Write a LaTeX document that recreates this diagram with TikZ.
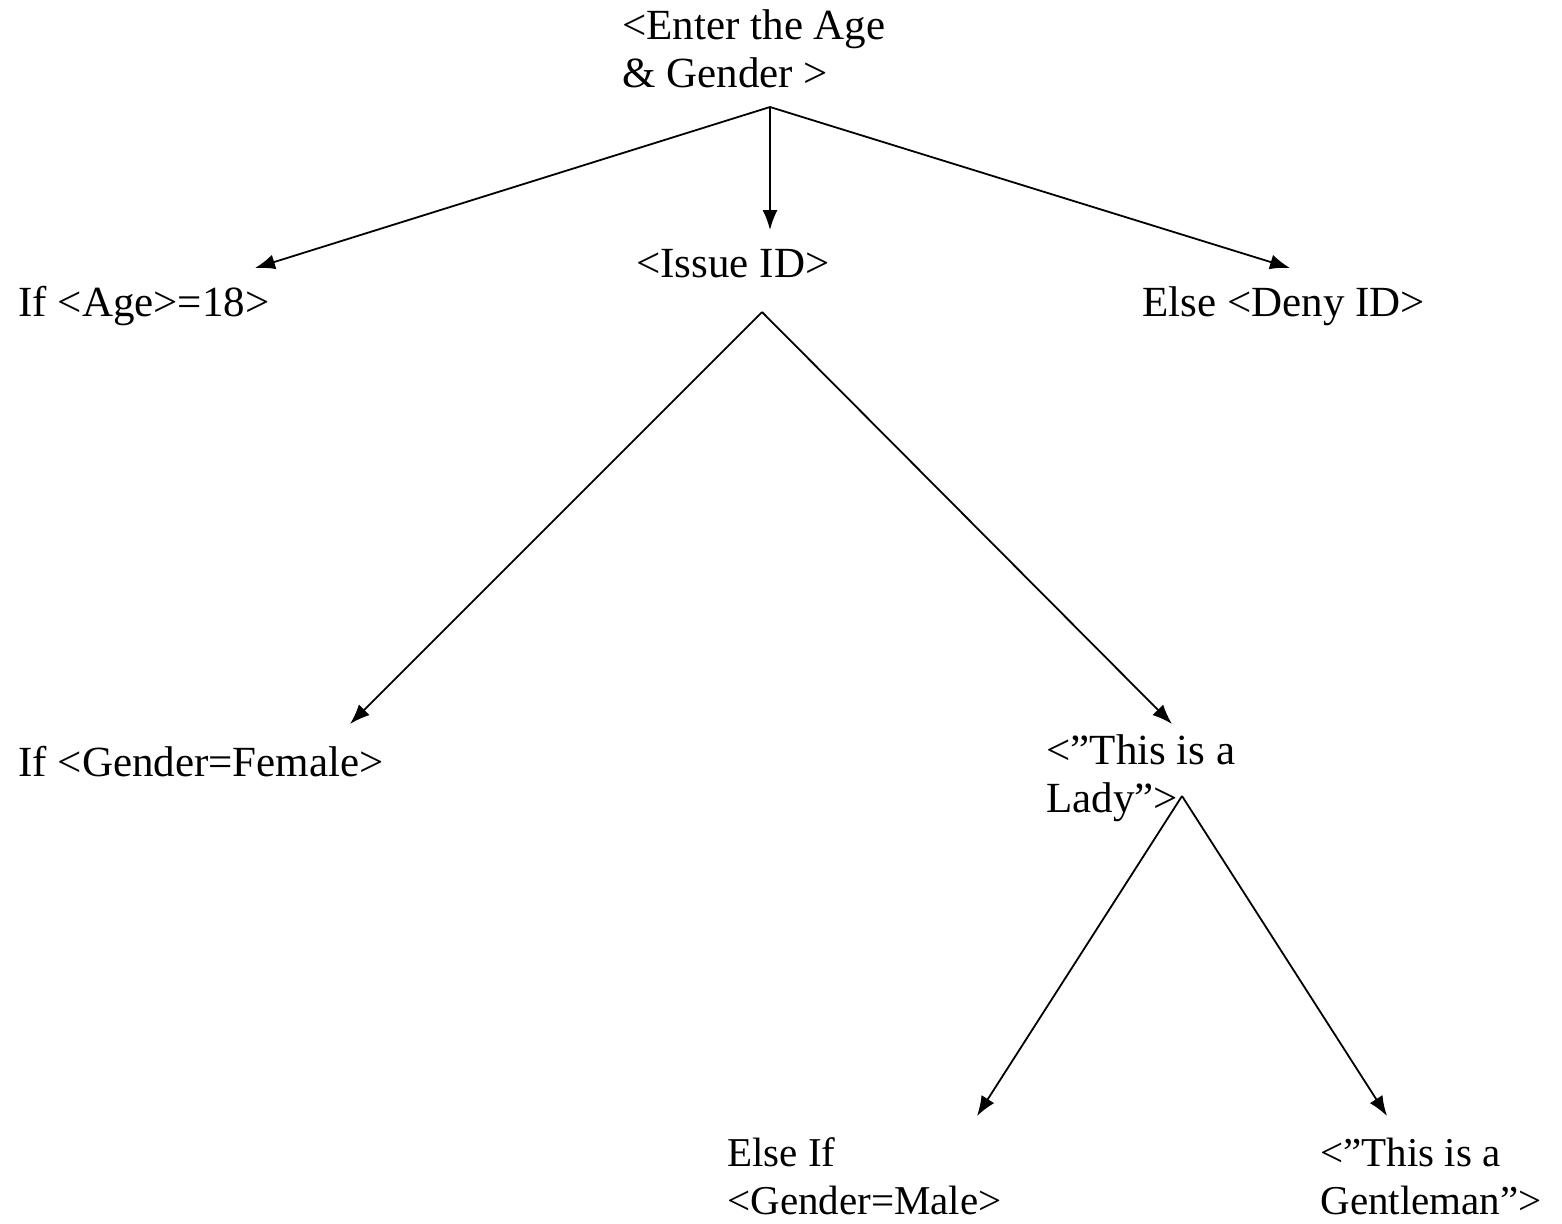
\documentclass[tikz,border=0pt]{standalone}
\usepackage{fontspec}
\setmainfont{Liberation Serif}
\usetikzlibrary{arrows.meta}
\begin{document}
\begin{tikzpicture}[x=0.5pt,y=-0.5pt,
  lbl/.style={anchor=base west,inner sep=0pt,align=left,font=\fontsize{21.5}{24}\selectfont},
  narrow/.style={font=\fontsize{20.5}{24}\selectfont},
  link/.style={line width=0.9pt,-{Latex[length=10pt,width=7.5pt]}}]
  \useasboundingbox (0,0) rectangle (1562,1223);

  % statements (anchored at the baseline of their last line)
  \node[lbl] (enter)  at (622,87)   {<Enter the Age\\\& Gender >};
  \node[lbl] (issue)  at (636,277)  {<Issue ID>};
  \node[lbl] (age)    at (18,316)   {If <Age>=18>};
  \node[lbl] (deny)   at (1142,316) {Else <Deny ID>};
  \node[lbl] (female) at (18,776)   {If <Gender=Female>};
  \node[lbl] (lady)   at (1046,812) {<''This is a\\Lady''>};
  \node[lbl,narrow] (male) at (727,1214)  {Else If\\<Gender=Male>};
  \node[lbl,narrow] (gent) at (1320,1214) {<''This is a\\Gentleman''>};

  % branch points and arrow ends
  \coordinate (enterfork) at (770,107);
  \coordinate (issuefork) at (762,312);
  \coordinate (ladyfork)  at (1182,796);
  \coordinate (agein)     at (255,268);
  \coordinate (issuein)   at (770,230);
  \coordinate (denyin)    at (1290,268);
  \coordinate (femalein)  at (350,724);
  \coordinate (ladyin)    at (1172,724);
  \coordinate (malein)    at (977,1116);
  \coordinate (gentin)    at (1387,1116);

  \draw[link] (enterfork) -- (agein);
  \draw[link] (enterfork) -- (issuein);
  \draw[link] (enterfork) -- (denyin);
  \draw[link] (issuefork) -- (femalein);
  \draw[link] (issuefork) -- (ladyin);
  \draw[link] (ladyfork) -- (malein);
  \draw[link] (ladyfork) -- (gentin);
\end{tikzpicture}
\end{document}
